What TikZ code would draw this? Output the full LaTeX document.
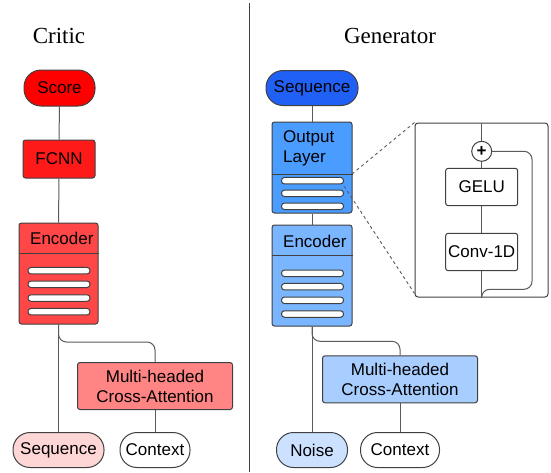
\documentclass[tikz,border=0pt]{standalone}
\usepackage{fontspec}
\setmainfont{Liberation Sans}
\newfontfamily\titlefont{Liberation Serif}
\usetikzlibrary{calc}
\definecolor{bord}{HTML}{404040}
\definecolor{conncol}{HTML}{5A5A5A}
\definecolor{redA}{HTML}{FF0000}
\definecolor{redB}{HTML}{FF1A1A}
\definecolor{redC}{HTML}{FF4747}
\definecolor{redD}{HTML}{FF8585}
\definecolor{redE}{HTML}{FFD6D6}
\definecolor{bluA}{HTML}{2160F5}
\definecolor{bluB}{HTML}{4A9CFF}
\definecolor{bluC}{HTML}{7AB5FF}
\definecolor{bluD}{HTML}{A8CDFF}
\definecolor{bluE}{HTML}{CCE1FF}
\tikzset{
  box/.style={draw=bord, line width=1pt, rounded corners=2.5pt, inner sep=0pt, align=center, font=\fontsize{17}{20}\selectfont},
  pill/.style={draw=bord, line width=1pt, rounded corners=17pt, inner sep=0pt, font=\fontsize{17}{20}\selectfont},
  stripebox/.style={draw=bord, fill=white, line width=1pt, rounded corners=3pt, minimum width=62pt, minimum height=6.5pt, inner sep=0pt},
  conn/.style={draw=conncol, line width=1pt},
  dashline/.style={draw=conncol, line width=0.9pt, dash pattern=on 3pt off 3pt},
  lbl/.style={inner sep=0pt, font=\fontsize{17}{20}\selectfont},
  ttl/.style={inner sep=0pt, font=\titlefont\fontsize{23}{26}\selectfont}
}
\begin{document}
\begin{tikzpicture}[x=1pt,y=-1pt]
\useasboundingbox (0,0) rectangle (551,472);
% divider
\draw[draw=bord, line width=1pt] (249,3) -- (249,472);
% titles
\node[ttl] (tcritic) at (59,36) {Critic};
\node[ttl] (tgen) at (390,36) {Generator};

% ---------- Critic ----------
\node[pill, fill=redA, minimum width=71pt, minimum height=36pt] (score) at (59.5,88) {Score};
\node[box, fill=redB, minimum width=72pt, minimum height=38pt] (fcnn) at (59,159) {FCNN};
\node[box, fill=redC, minimum width=79pt, minimum height=101pt] (cenc) at (58.5,273.5) {};
\draw[draw=bord, line width=1pt] (cenc.west |- 0,253) -- (cenc.east |- 0,253);
\node[lbl, anchor=west] (cenctxt) at (30,238.5) {Encoder};
\foreach \yy in {270.7,284.3,298,311.7} \node[stripebox] at (59,\yy) {};
\node[box, fill=redD, minimum width=155pt, minimum height=47pt] (cmha) at (155,386) {Multi-headed\\Cross-Attention};
\node[pill, fill=redE, minimum width=91pt, minimum height=35pt] (cseq) at (58.5,450) {Sequence};
\node[pill, fill=white, minimum width=70pt, minimum height=35pt] (cctx) at (155,450) {Context};

\draw[conn] (score.south) -- (fcnn.north);
\draw[conn] (fcnn.south) -- (cenc.north);
\draw[conn] (cenc.south) -- (cseq.north);
\draw[conn, rounded corners=8pt] (cenc.south) |- ([yshift=20pt]cmha.north) -- (cmha.north);
\draw[conn] (cmha.south) -- (cctx.north);

% ---------- Generator ----------
\node[pill, fill=bluA, minimum width=92pt, minimum height=35pt] (gseq) at (312,88) {Sequence};
\node[box, fill=bluB, minimum width=80pt, minimum height=91pt] (gout) at (312,167.5) {};
\draw[draw=bord, line width=1pt] (gout.west |- 0,174) -- (gout.east |- 0,174);
\node[lbl, anchor=west, align=left] (gouttxt) at (283,148) {Output\\Layer};
\foreach \yy in {180.7,193.3,206.3} \node[stripebox] at (312.5,\yy) {};
\node[box, fill=bluC, minimum width=80pt, minimum height=101pt] (genc) at (312,275.5) {};
\draw[draw=bord, line width=1pt] (genc.west |- 0,255) -- (genc.east |- 0,255);
\node[lbl, anchor=west] (genctxt) at (283,241) {Encoder};
\foreach \yy in {273.3,286.7,300.3,314} \node[stripebox] at (312.5,\yy) {};
\node[box, fill=bluD, minimum width=155pt, minimum height=47pt] (gmha) at (400,379.3) {Multi-headed\\Cross-Attention};
\node[pill, fill=bluE, minimum width=71pt, minimum height=35pt] (noise) at (312,450) {Noise};
\node[pill, fill=white, minimum width=79pt, minimum height=35pt] (gctx) at (400,450) {Context};

\draw[conn] (gseq.south) -- (gout.north);
\draw[conn] (gout.south) -- (genc.north);
\draw[conn] (genc.south) -- (noise.north);
\draw[conn, rounded corners=8pt] (genc.south) |- ([yshift=14pt]gmha.north) -- (gmha.north);
\draw[conn] (gmha.south) -- (gctx.north);

% ---------- zoom box ----------
\node[draw=bord, line width=1pt, rounded corners=3pt, minimum width=133pt, minimum height=174pt, inner sep=0pt] (zbox) at (481.5,210) {};
\node[draw=bord, fill=white, line width=1pt, circle, minimum size=20pt, inner sep=0pt, font=\bfseries\fontsize{17}{17}\selectfont] (plus) at (481.7,151.3) {+};
\node[box, fill=white, minimum width=72pt, minimum height=37.4pt] (gelu) at (481.7,187) {GELU};
\node[box, fill=white, minimum width=72pt, minimum height=37.4pt] (conv) at (481.7,252) {Conv-1D};
\coordinate (ztop) at (plus.north |- zbox.north);
\coordinate (zbot) at (conv.south |- zbox.south);
\coordinate (loopR) at (532,289.3);
\draw[conn] (ztop) -- (plus.north);
\draw[conn] (plus.south) -- (gelu.north);
\draw[conn] (gelu.south) -- (conv.north);
\draw[conn] (conv.south) -- (zbot);
\draw[conn, rounded corners=8pt] (zbot) |- (loopR) |- (plus.east);

% dashed zoom lines
\coordinate (dA) at (352,174);
\coordinate (dB) at (344,186);
\draw[dashline] (dA) -- (zbox.north west);
\draw[dashline] (dB) -- ([yshift=4pt]zbox.south west);
\end{tikzpicture}
\end{document}
